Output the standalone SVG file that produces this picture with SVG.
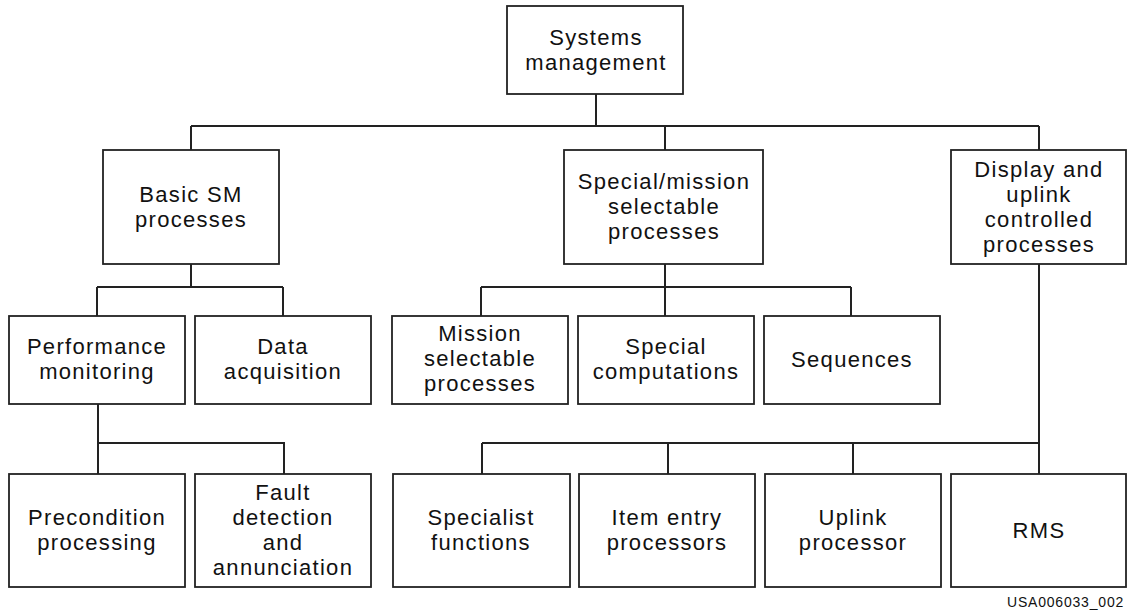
<svg xmlns="http://www.w3.org/2000/svg" width="1127" height="611" viewBox="0 0 1127 611">
<style>
.box{fill:#fff;stroke:#222;stroke-width:1.8}
.t{font-family:"Liberation Sans",Arial,sans-serif;font-size:22px;letter-spacing:1.3px;fill:#111;text-anchor:middle}
.c{fill:none;stroke:#222;stroke-width:2}
.f{font-family:"Liberation Sans",Arial,sans-serif;font-size:14px;letter-spacing:0.8px;fill:#111}
</style>
<rect width="1127" height="611" fill="#fff"/>
<g id="connectors">
<path class="c" d="M596 94V126M191 126H1039M191 126V150M665 126V150M1039 126V150"/>
<path class="c" d="M191 264V287M97 287H283M97 287V316M283 287V316"/>
<path class="c" d="M665 264V316M481 287H851M481 287V316M851 287V316"/>
<path class="c" d="M98 404V443H284V474M98 443V474"/>
<path class="c" d="M1039 264V474M482 443H1039M482 443V474M668 443V474M853 443V474"/>
</g>
<g id="systems-management"><rect class="box" x="507" y="6" width="176" height="88"/><text class="t" x="596" y="45">Systems</text><text class="t" x="596" y="70">management</text></g>
<g id="basic-sm"><rect class="box" x="103" y="150" width="176" height="114"/><text class="t" x="191" y="202">Basic SM</text><text class="t" x="191" y="227">processes</text></g>
<g id="special-mission"><rect class="box" x="564" y="150" width="199" height="114"/><text class="t" x="664" y="189">Special/mission</text><text class="t" x="664" y="214">selectable</text><text class="t" x="664" y="239">processes</text></g>
<g id="display-uplink"><rect class="box" x="951" y="150" width="175" height="114"/><text class="t" x="1039" y="177">Display and</text><text class="t" x="1039" y="202">uplink</text><text class="t" x="1039" y="227">controlled</text><text class="t" x="1039" y="252">processes</text></g>
<g id="performance-monitoring"><rect class="box" x="9" y="316" width="176" height="88"/><text class="t" x="97" y="354">Performance</text><text class="t" x="97" y="379">monitoring</text></g>
<g id="data-acquisition"><rect class="box" x="195" y="316" width="176" height="88"/><text class="t" x="283" y="354">Data</text><text class="t" x="283" y="379">acquisition</text></g>
<g id="mission-selectable"><rect class="box" x="392" y="316" width="176" height="88"/><text class="t" x="480" y="341">Mission</text><text class="t" x="480" y="366">selectable</text><text class="t" x="480" y="391">processes</text></g>
<g id="special-computations"><rect class="box" x="578" y="316" width="176" height="88"/><text class="t" x="666" y="354">Special</text><text class="t" x="666" y="379">computations</text></g>
<g id="sequences"><rect class="box" x="764" y="316" width="176" height="88"/><text class="t" x="852" y="367">Sequences</text></g>
<g id="precondition-processing"><rect class="box" x="9" y="474" width="176" height="113"/><text class="t" x="97" y="525">Precondition</text><text class="t" x="97" y="550">processing</text></g>
<g id="fault-detection"><rect class="box" x="195" y="474" width="176" height="113"/><text class="t" x="283" y="500">Fault</text><text class="t" x="283" y="525">detection</text><text class="t" x="283" y="550">and</text><text class="t" x="283" y="575">annunciation</text></g>
<g id="specialist-functions"><rect class="box" x="393" y="474" width="177" height="113"/><text class="t" x="481" y="525">Specialist</text><text class="t" x="481" y="550">functions</text></g>
<g id="item-entry"><rect class="box" x="579" y="474" width="176" height="113"/><text class="t" x="667" y="525">Item entry</text><text class="t" x="667" y="550">processors</text></g>
<g id="uplink-processor"><rect class="box" x="765" y="474" width="176" height="113"/><text class="t" x="853" y="525">Uplink</text><text class="t" x="853" y="550">processor</text></g>
<g id="rms"><rect class="box" x="951" y="474" width="175" height="113"/><text class="t" x="1039" y="538">RMS</text></g>
<text class="f" x="1007" y="607">USA006033_002</text>
</svg>
